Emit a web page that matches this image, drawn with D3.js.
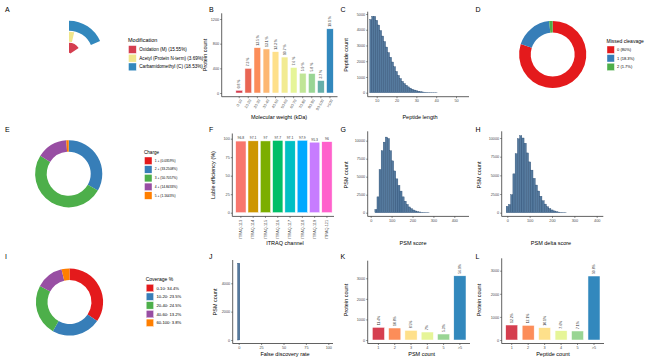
<!DOCTYPE html>
<html>
<head>
<meta charset="utf-8">
<script src="https://cdn.jsdelivr.net/npm/d3@7"></script>
<style>
  body { margin: 0; background: #fff; }
  svg { display: block; }
</style>
</head>
<body>
<svg id="fig" width="654" height="364"></svg>
<script>
// ---------- data ----------
const modNames = ['Oxidation (M)', 'Acetyl (Protein N-term)', 'Carbamidomethyl (C)'];
const modPct = [15.55, 3.69, 18.53];

const mwBins = ['0-10', '10-20', '20-30', '30-40', '40-50', '50-60', '60-70', '70-80', '80-90', '90-100', '>100'];
const mwCounts = [44, 400, 735, 714, 670, 583, 414, 321, 316, 202, 1041];
const mwPct = ['0.8 %', '7.3 %', '13.5 %', '13.1 %', '12.3 %', '10.7 %', '7.6 %', '5.9 %', '5.8 %', '3.7 %', '19.1 %'];

const pepLen = [7, 8, 9, 10, 11, 12, 13, 14, 15, 16, 17, 18, 19, 20, 21, 22, 23, 24, 25, 26, 27, 28, 29, 30, 31, 32, 33, 34, 35, 36, 37, 38, 39, 40];
const pepCount = [4650, 4850, 4850, 4600, 4300, 3950, 3600, 3250, 2900, 2550, 2250, 1950, 1650, 1350, 1100, 900, 720, 580, 470, 370, 290, 220, 170, 130, 95, 70, 50, 35, 25, 15, 10, 6, 4, 2];

const missedLabels = ['0 (80%)', '1 (18.3%)', '2 (1.7%)'];
const missedPct = [80, 18.3, 1.7];

const chargeLabels = ['1 + (0.0359%)', '2 + (33.2508%)', '3 + (50.7057%)', '4 + (14.8433%)', '5 + (1.1643%)'];
const chargePct = [0.0359, 33.2508, 50.7057, 14.8433, 1.1643];

const itraqChannels = ['ITRAQ-113', 'ITRAQ-114', 'ITRAQ-115', 'ITRAQ-116', 'ITRAQ-117', 'ITRAQ-118', 'ITRAQ-119', 'ITRAQ-121'];
const itraqEff = [96.8, 97.1, 97, 97.7, 97.1, 97.9, 95.3, 96];

const psmScoreStart = [20, 30, 40, 50, 60, 70, 80, 90, 100, 110, 120, 130, 140, 150, 160, 170, 180, 190, 200, 210, 220, 230, 240, 250, 260, 270];
const psmScoreCount = [450, 2200, 6000, 8600, 9800, 10500, 10300, 8600, 7200, 5800, 4700, 3800, 3000, 2200, 1600, 1150, 800, 560, 380, 250, 160, 100, 60, 40, 25, 15];

const deltaCenter = [0, 10, 20, 30, 40, 50, 60, 70, 80, 90, 100, 110, 120, 130, 140, 150, 160, 170, 180, 190, 200, 210, 220, 230, 240, 250, 260];
const deltaCount = [850, 1100, 2400, 5200, 7900, 9900, 10300, 10000, 9300, 8000, 6800, 5700, 4600, 3700, 2900, 2200, 1600, 1150, 800, 550, 370, 240, 150, 90, 50, 30, 15];

const coverageLabels = ['0-10: 34.4%', '10-20: 23.5%', '20-40: 24.5%', '40-60: 13.2%', '60-100: 3.8%'];
const coveragePct = [34.4, 23.5, 24.5, 13.2, 3.8];

const fdrCenter = [0];
const fdrCount = [5420];

const psmCats = ['1', '2', '3', '4', '5', '>5'];
const psmProteins = [617, 583, 470, 388, 291, 3121];
const psmPct = ['11.4%', '10.8%', '8.5%', '7%', '5.3%', '56.9%'];

const pepCats = ['1', '2', '3', '4', '5', '>5'];
const pepProteins = [649, 635, 534, 404, 390, 2770];
const pepPct = ['12.2%', '12.1%', '10.1%', '7.6%', '7.1%', '50.8%'];

// ---------- helpers ----------
const FONT = '"Liberation Sans", Arial, Helvetica, sans-serif';
const svg = d3.select('#fig').attr('font-family', FONT);
const spectral6 = ['#D53E4F', '#FC8D59', '#FEE08B', '#E6F598', '#99D594', '#3288BD'];
const set1 = ['#E41A1C', '#377EB8', '#4DAF4A', '#984EA3', '#FF7F00'];
const hue8 = ['#F8766D', '#CD9600', '#7CAE00', '#00BE67', '#00BFC4', '#00A9FF', '#C77CFF', '#FF61CC'];
const histFill = '#557a9e', histEdge = '#23466d';

function txt(x, y, s, size, opt = {}) {
  return svg.append('text')
    .attr('x', x).attr('y', y)
    .attr('font-size', size)
    .attr('fill', opt.fill || '#000')
    .attr('text-anchor', opt.anchor || 'start')
    .attr('dominant-baseline', opt.base || null)
    .attr('transform', opt.rot ? `rotate(${opt.rot},${x},${y})` : null)
    .text(s);
}

function frame(x0, x1, yTop, yBot) {
  svg.append('path')
    .attr('d', `M${x0},${yTop}V${yBot}H${x1}`)
    .attr('fill', 'none').attr('stroke', '#3a3a3a').attr('stroke-width', 0.8);
}

function styleAxis(a) {
  a.select('.domain').remove();
  a.selectAll('line').attr('stroke', '#3a3a3a').attr('stroke-width', 0.6);
  a.selectAll('text').attr('font-size', 3.8).attr('fill', '#4d4d4d').attr('font-family', FONT);
}

function yAxis(y, x0, ticks) {
  const a = svg.append('g').attr('transform', `translate(${x0},0)`)
    .call(d3.axisLeft(y).tickValues(ticks).tickSize(1.5).tickPadding(1).tickFormat(d3.format('d')));
  styleAxis(a);
  return a;
}

function xAxis(x, yPos, ticks) {
  const ax = d3.axisBottom(x).tickSize(1.5).tickPadding(1);
  if (ticks) ax.tickValues(ticks).tickFormat(d3.format('d'));
  const a = svg.append('g').attr('transform', `translate(0,${yPos})`).call(ax);
  styleAxis(a);
  return a;
}

function legend(x, yTitle, title, labels, colors, o) {
  txt(x, yTitle, title, o.titleSize);
  labels.forEach((l, i) => {
    const ky = o.keyTop + i * o.pitch;
    svg.append('rect').attr('x', x + 0.5).attr('y', ky)
      .attr('width', o.key).attr('height', o.key).attr('fill', colors[i])
      .attr('stroke', '#fff').attr('stroke-width', 0.4);
    txt(x + o.key + o.gap, ky + o.key / 2, l, o.textSize, { base: 'central' });
  });
}

function donut(cx, cy, values, colors) {
  const pie = d3.pie().sort(null).value(d => d)(values);
  const arc = d3.arc().innerRadius(22).outerRadius(33.6);
  svg.append('g').attr('transform', `translate(${cx},${cy})`)
    .selectAll('path').data(pie).join('path')
    .attr('d', arc).attr('fill', (d, i) => colors[i]);
}

function rotLabels(x, y, cats, values, labels) {
  cats.forEach((c, i) => {
    txt(x(c) + x.bandwidth() / 2 + 1.2, y(values[i]) - 2, labels[i], 3.4, { rot: -90, fill: '#333' });
  });
}

function bars(x, y, cats, values, colors) {
  svg.append('g').selectAll('rect').data(values).join('rect')
    .attr('x', (d, i) => x(cats[i])).attr('width', x.bandwidth())
    .attr('y', d => y(d)).attr('height', d => y(0) - y(d))
    .attr('fill', (d, i) => colors[i])
    .attr('stroke', '#fff').attr('stroke-width', 0.5);
}

function hist(x, y, starts, counts, bw) {
  svg.append('g').selectAll('rect').data(counts).join('rect')
    .attr('x', (d, i) => x(starts[i])).attr('width', (d, i) => x(starts[i] + bw) - x(starts[i]))
    .attr('y', d => y(d)).attr('height', d => y(0) - y(d))
    .attr('fill', histFill).attr('stroke', histEdge).attr('stroke-width', 0.35);
}

// ---------- panel letters ----------
[['A', 5, 11.5], ['B', 209, 11.5], ['C', 340.5, 11.5], ['D', 475.5, 11.5],
 ['E', 5, 131.5], ['F', 209, 131.5], ['G', 340.5, 131.5], ['H', 475.5, 131.5],
 ['I', 5, 258.5], ['J', 209, 258.5], ['K', 340.5, 258.5], ['L', 475.5, 258.5]]
  .forEach(([t, x, y]) => txt(x, y, t, 7));

// ---------- A: modification rings ----------
{
  const r = d3.scaleLinear().domain([0.4, 3.6]).range([0, 35.5]);
  const ang = d3.scaleLinear().domain([0, 100]).range([0, 2 * Math.PI]);
  const modColors = ['#D53E4F', '#F0E68C', '#3288BD'];
  const g = svg.append('g').attr('transform', 'translate(69,54.5)');
  modPct.forEach((p, i) => {
    g.append('path')
      .attr('d', d3.arc().innerRadius(r(i + 0.55)).outerRadius(r(i + 1.45)).startAngle(0).endAngle(ang(p))())
      .attr('fill', modColors[i]);
  });
  legend(128, 42, 'Modification', modNames.map((n, i) => `${n} (${modPct[i].toFixed(2)}%)`), modColors,
    { titleSize: 5.5, textSize: 4.6, key: 7.8, pitch: 8.7, keyTop: 45.6, gap: 3.5 });
}

// ---------- B: molecular weight ----------
{
  const x = d3.scaleBand().domain(mwBins).range([235.85, 333.3]).paddingInner(0.26).paddingOuter(0);
  const y = d3.scaleLinear().domain([0, 1200]).range([93, 19]);
  const cols = d3.quantize(d3.piecewise(d3.interpolateRgb, spectral6), mwBins.length);
  bars(x, y, mwBins, mwCounts, cols);
  rotLabels(x, y, mwBins, mwCounts, mwPct);
  frame(221.7, 337.5, 13.3, 96.7);
  yAxis(y, 221.7, [0, 400, 800, 1200]);
  const a = xAxis(x, 96.7);
  a.selectAll('text').attr('text-anchor', 'end').attr('dy', null)
    .attr('transform', 'translate(1,2.5) rotate(-60)');
  txt(207, 55, 'Protein count', 5.5, { rot: -90, anchor: 'middle' });
  txt(279, 118.5, 'Molecular weight (kDa)', 5.5, { anchor: 'middle' });
}

// ---------- C: peptide length ----------
{
  const x = d3.scaleLinear().domain([10, 50]).range([376.7, 456]);
  const y = d3.scaleLinear().domain([0, 5000]).range([92.7, 14]);
  hist(x, y, pepLen.map(v => v - 0.5), pepCount, 1);
  frame(367.7, 469, 11.7, 96.7);
  yAxis(y, 367.7, [0, 1000, 2000, 3000, 4000, 5000]);
  xAxis(x, 96.7, [10, 20, 30, 40, 50]);
  txt(348, 55, 'Peptide count', 5.5, { rot: -90, anchor: 'middle' });
  txt(420, 118.5, 'Peptide length', 5.5, { anchor: 'middle' });
}

// ---------- D: missed cleavage ----------
donut(552.7, 54.5, missedPct, set1);
legend(606.5, 42.5, 'Missed cleavage', missedLabels, set1,
  { titleSize: 5, textSize: 4, key: 7.4, pitch: 8.6, keyTop: 46, gap: 3.2 });

// ---------- E: charge ----------
donut(68.7, 173.8, chargePct, set1);
legend(144, 153.5, 'Charge', chargeLabels, set1,
  { titleSize: 4.6, textSize: 3.3, key: 7.5, pitch: 8.7, keyTop: 157, gap: 3.2 });

// ---------- F: labelling efficiency ----------
{
  const x = d3.scaleBand().domain(itraqChannels).range([235.7, 332.1]).paddingInner(0.16).paddingOuter(0);
  const y = d3.scaleLinear().domain([0, 100]).range([212.7, 138.7]);
  bars(x, y, itraqChannels, itraqEff, hue8);
  itraqChannels.forEach((c, i) => txt(x(c) + x.bandwidth() / 2, y(itraqEff[i]) - 1.6, String(itraqEff[i]), 3.4, { anchor: 'middle', fill: '#333' }));
  frame(232.3, 334, 133.5, 216.4);
  yAxis(y, 232.3, [0, 25, 50, 75, 100]);
  const a = xAxis(x, 216.4);
  a.selectAll('text').attr('text-anchor', 'end').attr('dy', '0.32em')
    .attr('transform', 'translate(0,1) rotate(-90)').attr('x', -2.5).attr('y', 0);
  txt(215, 175, 'Lable efficiency (%)', 5.5, { rot: -90, anchor: 'middle' });
  txt(285, 244.5, 'ITRAQ channel', 5.5, { anchor: 'middle' });
}

// ---------- G: PSM score ----------
{
  const x = d3.scaleLinear().domain([0, 400]).range([370.7, 454.3]);
  const y = d3.scaleLinear().domain([0, 10000]).range([212.7, 140.7]);
  hist(x, y, psmScoreStart, psmScoreCount, 10);
  frame(367.7, 469, 131.3, 216.4);
  yAxis(y, 367.7, [0, 2500, 5000, 7500, 10000]);
  xAxis(x, 216.4, [0, 100, 200, 300, 400]);
  txt(348, 175, 'PSM count', 5.5, { rot: -90, anchor: 'middle' });
  txt(413, 244.5, 'PSM score', 5.5, { anchor: 'middle' });
}

// ---------- H: PSM delta score ----------
{
  const x = d3.scaleLinear().domain([0, 400]).range([507.3, 596.7]);
  const y = d3.scaleLinear().domain([0, 10000]).range([212.7, 138]);
  hist(x, y, deltaCenter.map(v => v - 5), deltaCount, 10);
  frame(501.7, 603.3, 131.3, 216.4);
  yAxis(y, 501.7, [0, 2500, 5000, 7500, 10000]);
  xAxis(x, 216.4, [0, 100, 200, 300, 400]);
  txt(481, 175, 'PSM count', 5.5, { rot: -90, anchor: 'middle' });
  txt(551, 244.5, 'PSM delta score', 5.5, { anchor: 'middle' });
}

// ---------- I: coverage ----------
donut(69.5, 302, coveragePct, set1);
legend(145.7, 281, 'Coverage %', coverageLabels, set1,
  { titleSize: 5, textSize: 4.2, key: 7.4, pitch: 8.7, keyTop: 284.3, gap: 3.3 });

// ---------- J: FDR ----------
{
  const x = d3.scaleLinear().domain([0, 100]).range([238.7, 328.3]);
  const y = d3.scaleLinear().domain([0, 4000]).range([340, 283.3]);
  hist(x, y, fdrCenter.map(v => v - 1.25), fdrCount, 2.5);
  frame(232.7, 333, 260, 343.5);
  yAxis(y, 232.7, [0, 2000, 4000]);
  xAxis(x, 343.5, [0, 25, 50, 75, 100]);
  txt(217, 302, 'PSM count', 5.5, { rot: -90, anchor: 'middle' });
  txt(285, 355.5, 'False discovery rate', 5.5, { anchor: 'middle' });
}

// ---------- K: proteins by PSM count ----------
{
  const x = d3.scaleBand().domain(psmCats).range([372.3, 466]).paddingInner(0.25).paddingOuter(0);
  const y = d3.scaleLinear().domain([0, 3000]).range([340, 278.3]);
  bars(x, y, psmCats, psmProteins, spectral6);
  rotLabels(x, y, psmCats, psmProteins, psmPct);
  frame(367.7, 470, 260.7, 343.5);
  yAxis(y, 367.7, [0, 1000, 2000, 3000]);
  xAxis(x, 343.5);
  txt(348, 300, 'Protein count', 5.5, { rot: -90, anchor: 'middle' });
  txt(421.7, 355.5, 'PSM count', 5.5, { anchor: 'middle' });
}

// ---------- L: proteins by peptide count ----------
{
  const x = d3.scaleBand().domain(pepCats).range([505.7, 600]).paddingInner(0.27).paddingOuter(0);
  const y = d3.scaleLinear().domain([0, 3000]).range([340, 270.7]);
  bars(x, y, pepCats, pepProteins, spectral6);
  rotLabels(x, y, pepCats, pepProteins, pepPct);
  frame(501.7, 604, 258.3, 343.5);
  yAxis(y, 501.7, [0, 1000, 2000, 3000]);
  xAxis(x, 343.5);
  txt(481, 300, 'Protein count', 5.5, { rot: -90, anchor: 'middle' });
  txt(553, 355.5, 'Peptide count', 5.5, { anchor: 'middle' });
}
</script>
</body>
</html>
